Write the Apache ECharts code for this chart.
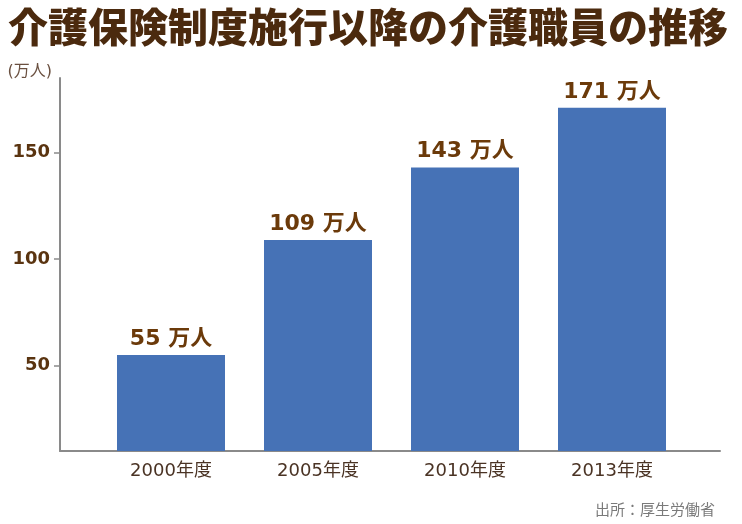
<!DOCTYPE html>
<html><head><meta charset="utf-8">
<script src="https://cdn.jsdelivr.net/npm/echarts@6/dist/echarts.min.js"></script>
<style>html,body{margin:0;padding:0;background:#fff}#c{width:742px;height:524px}</style>
</head><body><div id="c"></div>
<script>
const titleText = '介護保険制度施行以降の介護職員の推移';
const categories = ['2000年度', '2005年度', '2010年度', '2013年度'];
const values = [55, 109, 143, 171];
const yTicks = [50, 100, 150];
const unitLabel = '(万人)';
const valueSuffix = ' 万人';
const sourceText = '出所：厚生労働省';

const font = '"Noto Sans CJK JP", "Noto Sans", sans-serif';
const numFont = '"DejaVu Sans", "Noto Sans CJK JP", sans-serif';
const chart = echarts.init(document.getElementById('c'), null, {renderer: 'canvas'});
chart.setOption({
  animation: false,
  backgroundColor: '#fff',
  title: [
    {text: titleText, left: 3, top: 2,
     textStyle: {fontFamily: font, fontSize: 40, fontWeight: 900, color: '#4b2a0e'}},
    {text: sourceText, right: 22, top: 497,
     textStyle: {fontFamily: font, fontSize: 15, fontWeight: 'normal', color: '#7a7a7a'}}
  ],
  grid: [
    {left: 60, right: 22, top: 78, bottom: 73},
    {left: 97.5, width: 588, top: 78, bottom: 73}
  ],
  xAxis: [
    {type: 'category', gridIndex: 0, data: categories,
     axisLine: {show: true, lineStyle: {color: '#8a8a8a', width: 2}},
     axisTick: {show: false}, axisLabel: {show: false}},
    {type: 'category', gridIndex: 1, data: categories,
     axisLine: {show: false}, axisTick: {show: false},
     axisLabel: {fontFamily: numFont, fontSize: 18, color: '#4a3324', margin: 11}}
  ],
  yAxis: [
    {type: 'value', gridIndex: 0, min: 10, max: 185,
     name: unitLabel, nameLocation: 'end', nameGap: -2,
     nameTextStyle: {fontFamily: numFont, fontSize: 16, color: '#6a5040', align: 'right', padding: [0, 8, 0, 0]},
     axisLine: {show: true, lineStyle: {color: '#8a8a8a', width: 2}},
     axisTick: {show: true, length: 6, customValues: yTicks, lineStyle: {color: '#8a8a8a', width: 1.5}},
     axisLabel: {customValues: yTicks, fontFamily: numFont, fontSize: 18, fontWeight: 'bold', color: '#5a3410', margin: 10},
     splitLine: {show: false}},
    {type: 'value', gridIndex: 1, min: 10, max: 185, show: false, splitLine: {show: false}}
  ],
  series: [{
    type: 'bar', xAxisIndex: 1, yAxisIndex: 1, data: values, barWidth: 108,
    itemStyle: {color: '#4672b6'},
    label: {show: true, position: 'top', distance: 5,
      formatter: p => p.value + valueSuffix,
      fontFamily: numFont, fontSize: 22, fontWeight: 'bold', color: '#6b3a0a'}
  }]
});
</script></body></html>
